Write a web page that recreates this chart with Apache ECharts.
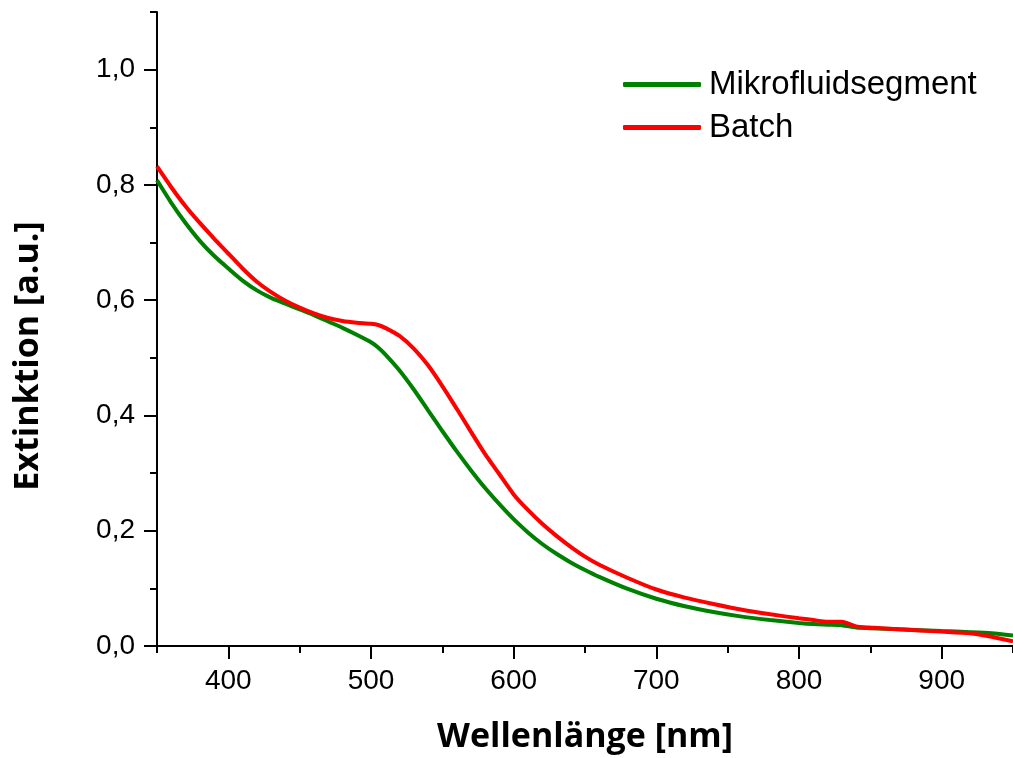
<!DOCTYPE html>
<html>
<head>
<meta charset="utf-8">
<title>Extinktion</title>
<script src="https://cdn.jsdelivr.net/npm/echarts@6/dist/echarts.min.js"></script>
<style>
    html, body { margin: 0; padding: 0; background: #fff; }
    #chart { width: 1013px; height: 758px; }
</style>
</head>
<body>
<div id="chart"></div>
<script>
// Wellenlängen (nm)
const wavelengths = [350, 360, 370, 380, 390, 400, 410, 420, 430, 440, 450, 460, 470, 480, 490,
    500, 505, 510, 520, 530, 540, 550, 560, 570, 580, 590, 600, 610, 620, 630, 640, 650, 660, 680,
    700, 720, 740, 760, 780, 800, 810, 820, 830, 840, 850, 870, 900, 920, 935, 950];

// Extinktion Mikrofluidsegment
const mikroValues = [0.808, 0.769, 0.734, 0.703, 0.677, 0.655, 0.634, 0.617, 0.604, 0.594, 0.584, 0.574, 0.563, 0.552, 0.540,
    0.527, 0.518, 0.506, 0.478, 0.445, 0.409, 0.373, 0.338, 0.305, 0.274, 0.246, 0.220, 0.197, 0.177, 0.160, 0.145, 0.132, 0.120, 0.099,
    0.082, 0.069, 0.059, 0.051, 0.045, 0.040, 0.038, 0.037, 0.036, 0.032, 0.031, 0.029, 0.026, 0.024, 0.022, 0.018];

// Extinktion Batch
const batchValues = [0.832, 0.796, 0.763, 0.734, 0.707, 0.681, 0.655, 0.632, 0.614, 0.599, 0.587, 0.577, 0.569, 0.564, 0.561,
    0.559, 0.557, 0.552, 0.538, 0.516, 0.487, 0.451, 0.412, 0.372, 0.333, 0.298, 0.263, 0.236, 0.212, 0.191, 0.172, 0.155, 0.141, 0.118,
    0.098, 0.084, 0.073, 0.063, 0.055, 0.048, 0.045, 0.042, 0.042, 0.034, 0.032, 0.029, 0.025, 0.022, 0.016, 0.008];

// Achsenbeschriftungen
const xTicks = [400, 500, 600, 700, 800, 900];
const yTicks = [0, 0.2, 0.4, 0.6, 0.8, 1.0];

function toPairs(values) {
    return wavelengths.map((w, i) => [w, values[i]]);
}

function initChart() {
    const chart = echarts.init(document.getElementById('chart'));
    const labelFont = 'Liberation Sans, Arial, sans-serif';
    const titleFont = 'Open Sans, sans-serif';
    const black = '#000';

    const option = {
        animation: false,
        backgroundColor: '#fff',
        grid: {
            left: 157,
            right: 0,
            top: 12,
            bottom: 112,
            containLabel: false,
            outerBoundsMode: 'none'
        },
        legend: {
            orient: 'vertical',
            left: 618,
            top: 63,
            icon: 'roundRect',
            itemWidth: 78,
            itemHeight: 5,
            itemGap: 10,
            textStyle: {
                fontFamily: labelFont,
                fontSize: 33,
                lineHeight: 32,
                color: black,
                padding: [0, 0, 0, 3]
            },
            data: ['Mikrofluidsegment', 'Batch']
        },
        xAxis: [{
            type: 'value',
            min: 350,
            max: 950,
            interval: 50,
            name: 'Wellenlänge [nm]',
            nameLocation: 'middle',
            nameGap: 74,
            nameTextStyle: {
                fontFamily: titleFont,
                fontWeight: 'bold',
                fontSize: 34,
                color: black
            },
            axisLine: { lineStyle: { color: black, width: 2 } },
            axisTick: {
                length: 13,
                lineStyle: { color: black, width: 2 },
                customValues: xTicks
            },
            axisLabel: {
                customValues: xTicks,
                margin: 21,
                fontFamily: labelFont,
                fontSize: 28,
                color: black
            },
            splitLine: { show: false }
        }, {
            // kurze Zwischenstriche
            type: 'value',
            min: 350,
            max: 950,
            interval: 50,
            position: 'bottom',
            axisLine: { show: false },
            axisTick: { length: 7, lineStyle: { color: black, width: 2 } },
            axisLabel: { show: false },
            splitLine: { show: false }
        }],
        yAxis: [{
            type: 'value',
            min: 0,
            max: 1.1,
            interval: 0.1,
            name: 'Extinktion [a.u.]',
            nameLocation: 'middle',
            nameGap: 112,
            nameTextStyle: {
                fontFamily: titleFont,
                fontWeight: 'bold',
                fontSize: 34,
                color: black,
                padding: [0, 54, 0, 0]
            },
            axisLine: { show: true, lineStyle: { color: black, width: 2 } },
            axisTick: {
                show: true,
                length: 13,
                lineStyle: { color: black, width: 2 },
                customValues: yTicks
            },
            axisLabel: {
                customValues: yTicks,
                margin: 22,
                fontFamily: labelFont,
                fontSize: 28,
                color: black,
                formatter: v => v.toFixed(1).replace('.', ',')
            },
            splitLine: { show: false }
        }, {
            type: 'value',
            min: 0,
            max: 1.1,
            interval: 0.1,
            position: 'left',
            axisLine: { show: false },
            axisTick: { show: true, length: 7, lineStyle: { color: black, width: 2 } },
            axisLabel: { show: false },
            splitLine: { show: false }
        }],
        series: [{
            name: 'Mikrofluidsegment',
            type: 'line',
            data: toPairs(mikroValues),
            symbol: 'none',
            smooth: 0.25,
            lineStyle: { color: '#008000', width: 4 },
            itemStyle: { color: '#008000' }
        }, {
            name: 'Batch',
            type: 'line',
            data: toPairs(batchValues),
            symbol: 'none',
            smooth: 0.25,
            lineStyle: { color: '#ff0000', width: 4 },
            itemStyle: { color: '#ff0000' }
        }]
    };
    chart.setOption(option);
}

document.addEventListener('DOMContentLoaded', initChart);
</script>
</body>
</html>
